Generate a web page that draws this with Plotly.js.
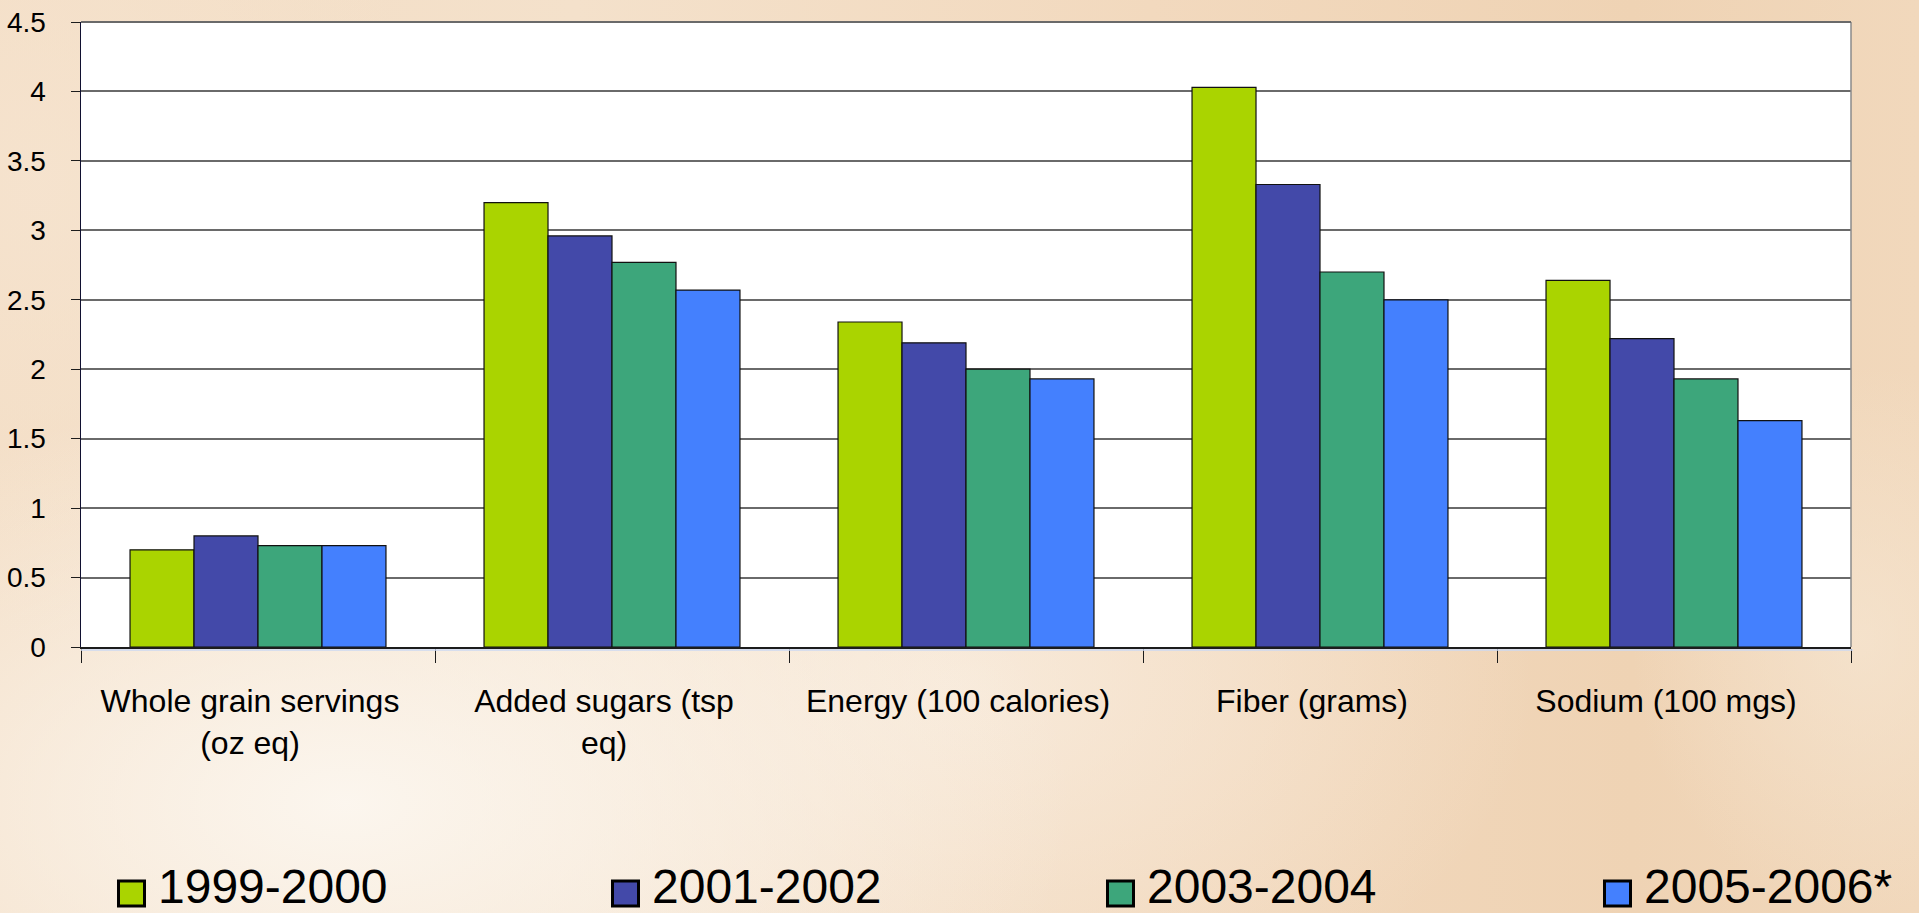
<!DOCTYPE html>
<html>
<head>
<meta charset="utf-8">
<script src="https://cdn.plot.ly/plotly-3.0.1.min.js"></script>
<style>
  html, body { margin: 0; padding: 0; width: 1919px; height: 913px; overflow: hidden; }
  body {
    background:
      radial-gradient(ellipse 38% 45% at 18% 88%, rgba(252,247,240,0.95), rgba(252,247,240,0) 100%),
      radial-gradient(ellipse 30% 40% at 50% 75%, rgba(250,240,228,0.7), rgba(250,240,228,0) 100%),
      radial-gradient(ellipse 20% 50% at 2% 20%, rgba(246,228,208,0.8), rgba(246,228,208,0) 100%),
      radial-gradient(ellipse 12% 30% at 97% 70%, rgba(246,230,210,0.7), rgba(246,230,210,0) 100%),
      linear-gradient(90deg, #F3DDC4 0%, #F4E1CB 30%, #F2D9BE 60%, #EFD3B4 85%, #F1D8BC 100%);
  }
  #chart { width: 1919px; height: 913px; }
</style>
</head>
<body>
<div id="chart"></div>
<script>
// Nutrient categories (x axis)
const categories = [
  'Whole grain servings<br>(oz eq)',
  'Added sugars (tsp<br>eq)',
  'Energy (100 calories)',
  'Fiber (grams)',
  'Sodium (100 mgs)'
];

// Survey periods
const periods = ['1999-2000', '2001-2002', '2003-2004', '2005-2006*'];

// Values per period, one per category
const v1999 = [0.70, 3.20, 2.34, 4.03, 2.64];
const v2001 = [0.80, 2.96, 2.19, 3.33, 2.22];
const v2003 = [0.73, 2.77, 2.00, 2.70, 1.93];
const v2005 = [0.73, 2.57, 1.93, 2.50, 1.63];

const seriesValues = [v1999, v2001, v2003, v2005];
const seriesColors = ['#AAD400', '#4349A9', '#3DA67B', '#4480FE'];

const W = 1919, H = 913;
const M = { l: 81, r: 68, t: 22, b: 266 };
const plotW = W - M.l - M.r;
const plotH = H - M.t - M.b;
const px2x = x => (x - M.l) / plotW;
const px2y = y => (H - M.b - y) / plotH;

const FONT = 'Liberation Sans, Arial, Helvetica, sans-serif';

const traces = seriesValues.map((vals, i) => ({
  type: 'bar',
  name: periods[i],
  x: categories,
  y: vals,
  marker: { color: seriesColors[i], line: { color: '#111111', width: 1.2 } },
  showlegend: false,
  hoverinfo: 'x+y+name'
}));

// Legend row along the bottom: boxed swatches and period names
const legendLeft = [117, 611, 1106, 1603];
const shapes = [];
const annotations = [];
periods.forEach((p, i) => {
  const x0 = legendLeft[i];
  shapes.push({
    type: 'rect', xref: 'paper', yref: 'paper',
    x0: px2x(x0 + 1.5), x1: px2x(x0 + 27.5),
    y0: px2y(906), y1: px2y(881),
    fillcolor: seriesColors[i],
    line: { color: '#000000', width: 3 }
  });
  annotations.push({
    xref: 'paper', yref: 'paper',
    x: px2x(x0 + 41), y: px2y(913),
    xanchor: 'left', yanchor: 'bottom',
    borderpad: 0, borderwidth: 0,
    text: p, showarrow: false,
    font: { family: FONT, size: 48, color: '#000000' }
  });
});

// Plot frame: grey top/right edges and a faint line under the category axis
shapes.push({ type: 'line', xref: 'paper', yref: 'paper', x0: 1, x1: 1, y0: 0, y1: 1,
  line: { color: '#8a8a8a', width: 1.5 } });
shapes.push({ type: 'line', xref: 'paper', yref: 'paper', x0: 0, x1: 1, y0: 1, y1: 1,
  line: { color: '#6a6a6a', width: 2 } });
shapes.push({ type: 'line', xref: 'paper', yref: 'paper', x0: 0, x1: px2x(1853), y0: px2y(650), y1: px2y(650),
  line: { color: '#cdd8f2', width: 1.5 } });

const layout = {
  width: W, height: H,
  margin: M,
  paper_bgcolor: 'rgba(0,0,0,0)',
  plot_bgcolor: '#FFFFFF',
  barmode: 'group',
  bargap: 0.277,
  bargroupgap: 0,
  showlegend: false,
  font: { family: FONT, color: '#000000' },
  xaxis: {
    type: 'category',
    showgrid: false,
    showline: true, linecolor: '#1c1c1c', linewidth: 1.5,
    ticks: 'outside', tickson: 'boundaries', ticklen: 14, tickwidth: 1, tickcolor: '#1c1c1c',
    ticklabelstandoff: 25,
    ticklabelshift: -8,
    tickfont: { family: FONT, size: 32, color: '#000000' },
    zeroline: false,
    fixedrange: true
  },
  yaxis: {
    range: [0, 4.5],
    dtick: 0.5,
    showgrid: true, gridcolor: '#6a6a6a', gridwidth: 2,
    showline: true, linecolor: '#101030', linewidth: 1.5,
    ticks: 'outside', ticklen: 9, tickwidth: 1, tickcolor: '#1c1c1c',
    ticklabelstandoff: 19,
    tickfont: { family: FONT, size: 28, color: '#000000' },
    zeroline: false,
    fixedrange: true
  },
  shapes: shapes,
  annotations: annotations
};

Plotly.newPlot('chart', traces, layout, { displayModeBar: false, staticPlot: true });
</script>
</body>
</html>
